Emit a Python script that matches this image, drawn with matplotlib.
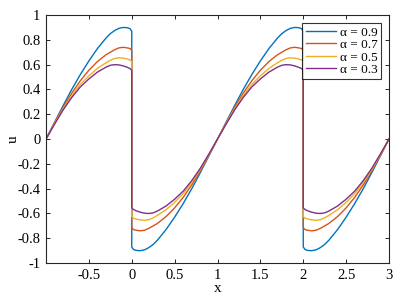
import matplotlib.pyplot as plt
import numpy as np

plt.rcParams['font.family'] = ['Liberation Serif', 'DejaVu Serif']
plt.rcParams['mathtext.fontset'] = 'stix'

# x positions (the jumps at x=0 and x=2 appear twice)
x = [-1, -0.9, -0.8, -0.7, -0.6, -0.5, -0.4, -0.3, -0.25, -0.2, -0.15, -0.1, -0.05, -0.02, 0,
     0, 0.02, 0.05, 0.1, 0.15, 0.2, 0.25, 0.3, 0.4, 0.5, 0.6, 0.7, 0.8, 0.9, 1.0,
     1.1, 1.2, 1.3, 1.4, 1.5, 1.6, 1.7, 1.75, 1.8, 1.85, 1.9, 1.95, 1.98, 2.0,
     2.0, 2.02, 2.05, 2.1, 2.15, 2.2, 2.25, 2.3, 2.4, 2.5, 2.6, 2.7, 2.8, 2.9, 3.0]

u_09 = [0, 0.135, 0.27, 0.40, 0.52, 0.63, 0.73, 0.815, 0.85, 0.875, 0.893, 0.90, 0.898, 0.89, 0.87,
        -0.87, -0.89, -0.898, -0.90, -0.893, -0.875, -0.85, -0.815, -0.73, -0.63, -0.52, -0.40, -0.27, -0.135, 0,
        0.135, 0.27, 0.40, 0.52, 0.63, 0.73, 0.815, 0.85, 0.875, 0.893, 0.90, 0.898, 0.89, 0.87,
        -0.87, -0.89, -0.898, -0.90, -0.893, -0.875, -0.85, -0.815, -0.73, -0.63, -0.52, -0.40, -0.27, -0.135, 0]

u_07 = [0, 0.13, 0.255, 0.37, 0.47, 0.555, 0.625, 0.68, 0.70, 0.72, 0.735, 0.74, 0.735, 0.73, 0.715,
        -0.715, -0.73, -0.735, -0.74, -0.735, -0.72, -0.70, -0.68, -0.625, -0.555, -0.47, -0.37, -0.255, -0.13, 0,
        0.13, 0.255, 0.37, 0.47, 0.555, 0.625, 0.68, 0.70, 0.72, 0.735, 0.74, 0.735, 0.73, 0.715,
        -0.715, -0.73, -0.735, -0.74, -0.735, -0.72, -0.70, -0.68, -0.625, -0.555, -0.47, -0.37, -0.255, -0.13, 0]

u_05 = [0, 0.125, 0.245, 0.35, 0.44, 0.51, 0.57, 0.615, 0.635, 0.65, 0.655, 0.652, 0.645, 0.638, 0.625,
        -0.625, -0.638, -0.645, -0.652, -0.655, -0.65, -0.635, -0.615, -0.57, -0.51, -0.44, -0.35, -0.245, -0.125, 0,
        0.125, 0.245, 0.35, 0.44, 0.51, 0.57, 0.615, 0.635, 0.65, 0.655, 0.652, 0.645, 0.638, 0.625,
        -0.625, -0.638, -0.645, -0.652, -0.655, -0.65, -0.635, -0.615, -0.57, -0.51, -0.44, -0.35, -0.245, -0.125, 0]

u_03 = [0, 0.12, 0.235, 0.335, 0.42, 0.485, 0.54, 0.58, 0.595, 0.60, 0.598, 0.59, 0.578, 0.568, 0.555,
        -0.555, -0.568, -0.578, -0.59, -0.598, -0.60, -0.595, -0.58, -0.54, -0.485, -0.42, -0.335, -0.235, -0.12, 0,
        0.12, 0.235, 0.335, 0.42, 0.485, 0.54, 0.58, 0.595, 0.60, 0.598, 0.59, 0.578, 0.568, 0.555,
        -0.555, -0.568, -0.578, -0.59, -0.598, -0.60, -0.595, -0.58, -0.54, -0.485, -0.42, -0.335, -0.235, -0.12, 0]

labels = ['α = 0.9', 'α = 0.7', 'α = 0.5', 'α = 0.3']
colors = ['#0072BD', '#D95319', '#EDB120', '#7E2F8E']

fig = plt.figure(figsize=(4.0, 3.01), dpi=100)
ax = fig.add_axes([0.115, 0.126, 0.8575, 0.824])

for u, lab, c in zip([u_09, u_07, u_05, u_03], labels, colors):
    ax.plot(x, u, color=c, lw=1.0, label=lab)

ax.set_xlim(-1, 3)
ax.set_ylim(-1, 1)
ax.set_xticks(np.arange(-0.5, 3.01, 0.5))
ax.set_xticklabels(['-0.5', '0', '0.5', '1', '1.5', '2', '2.5', '3'])
yt = np.arange(-1, 1.01, 0.2)
ax.set_yticks(yt)
ax.set_yticklabels(['-1', '-0.8', '-0.6', '-0.4', '-0.2', '0', '0.2', '0.4', '0.6', '0.8', '1'])
ax.tick_params(direction='in', top=True, right=True, labelsize=10.5, length=3, width=0.6, pad=4)
for s in ax.spines.values():
    s.set_linewidth(0.8)
    s.set_color('#262626')

ax.set_xlabel('x', fontsize=11, labelpad=0)
ax.set_ylabel('u', fontsize=11, labelpad=-2)

leg = ax.legend(loc='upper right', fontsize=9.5, frameon=True, fancybox=False,
                edgecolor='black', handlelength=2.3, borderpad=0.25, labelspacing=0.02,
                handletextpad=0.3, borderaxespad=0.6)
leg.get_frame().set_linewidth(0.8)

fig.savefig('out.png', dpi=100)
